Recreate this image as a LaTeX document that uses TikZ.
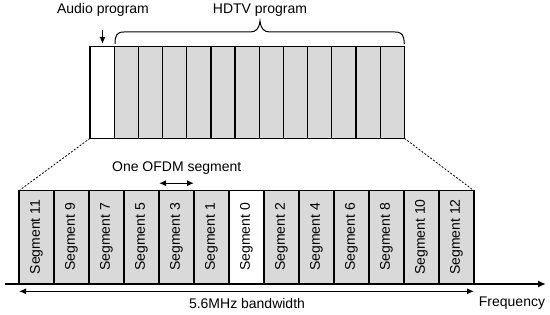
\documentclass[tikz,border=0pt]{standalone}
\usepackage{fontspec}
\setmainfont{Liberation Sans}
\usetikzlibrary{arrows.meta,calc}
\begin{document}
\begin{tikzpicture}[x=1pt,y=-1pt,
  lbl/.style={font=\fontsize{14}{16}\selectfont,inner sep=0pt},
  topcell/.style={draw=black,line width=1.3pt,fill=gray!30,minimum width=24.18pt,minimum height=91.6pt,inner sep=0pt,outer sep=0pt,anchor=north west},
  segcell/.style={draw=black,line width=1.2pt,fill=gray!30,minimum width=35pt,minimum height=92.6pt,inner sep=0pt,outer sep=0pt,anchor=north west},
  arr/.style={line width=1.3pt,-{Latex[length=7pt,width=6pt]}},
  darr/.style={line width=1.3pt,{Latex[length=7pt,width=6pt]}-{Latex[length=7pt,width=6pt]}},
  dashline/.style={line width=0.8pt,dash pattern=on 2pt off 1.6pt}]
\useasboundingbox (0,0) rectangle (550,315);
% top block
\foreach \i in {0,...,12}{
  \node[topcell] (t\i) at ({90+24.18*\i},46.7) {};
}
\node[topcell,fill=white] at (t0.north west) {};
\node[lbl] (audio) at (103,10) {Audio program};
\node[lbl] (hdtv) at (260,10) {HDTV program};
\coordinate (aud1) at (102.5,30);
\coordinate (aud2) at (102.5,44);
\draw[arr] (aud1) -- (aud2);
% brace
\draw[line width=1pt] (115,44) .. controls (115,35) and (117,32) .. (124,32) -- (250,32)
  .. controls (256,32) and (259,29) .. (260,21)
  .. controls (261,29) and (264,32) .. (270,32) -- (395,32)
  .. controls (402,32) and (404,35) .. (404.3,44);
% bottom segments
\foreach \lab [count=\k from 0] in {11,9,7,5,3,1,0,2,4,6,8,10,12}{
  \node[segcell] (b\k) at ({19+35*\k},190.7) {};
  \node[lbl,rotate=90] (s\k) at (b\k.center) {Segment \lab};
}
\node[segcell,fill=white] (b6w) at (b6.north west) {};
\node[lbl,rotate=90] at (b6w.center) {Segment 0};
% dashed projection
\draw[dashline] (t0.south west) -- (b0.north west);
\draw[dashline] (t12.south east) -- (b12.north east);
% OFDM label and arrow
\node[lbl] (ofdm) at (176.7,168) {One OFDM segment};
\coordinate (o1) at ($(b4.north west)+(0,-7.5)$);
\coordinate (o2) at ($(b4.north east)+(0,-7.5)$);
\draw[darr] (o1) -- (o2);
% frequency axis
\coordinate (ax1) at (5,284);
\coordinate (ax2) at (546,284);
\draw[line width=1.8pt,-{Latex[length=8pt,width=7pt]}] (ax1) -- (ax2);
\node[lbl] (freq) at (512,303) {Frequency};
% bandwidth
\coordinate (bw1) at ($(b0.south west)+(0,8)$);
\coordinate (bw2) at ($(b12.south east)+(0,8)$);
\draw[darr,line width=1.2pt] (bw1) -- (bw2);
\node[lbl] (bw) at (247,303) {5.6MHz bandwidth};
\end{tikzpicture}
\end{document}
